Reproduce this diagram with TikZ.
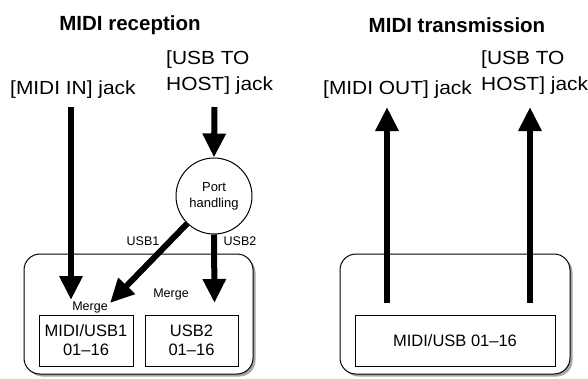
\documentclass[tikz,border=0pt]{standalone}
\usepackage{fontspec}
\setmainfont{Liberation Sans}
\newfontfamily\widefont[FakeStretch=1.1]{Liberation Sans}
\usetikzlibrary{arrows.meta,shadows}

\tikzset{
  bigarrow/.style={line width=6pt, -{Triangle[width=22pt,length=24pt]}},
  title/.style={font=\bfseries\fontsize{20.5}{22}\selectfont, inner sep=0pt},
  jack/.style={font=\widefont\fontsize{19}{26}\selectfont, align=left, inner sep=0pt, anchor=base west},
  small/.style={font=\fontsize{12.5}{15}\selectfont, inner sep=0pt},
  panel/.style={draw, line width=1pt, rounded corners=16pt, fill=white,
    minimum height=120pt, drop shadow={shadow xshift=2.5pt, shadow yshift=-2.5pt, fill=black!35, opacity=1}},
  partbox/.style={draw, line width=1pt, fill=white, minimum height=51pt,
    font=\fontsize{16.5}{19}\selectfont, align=center, inner sep=0pt}
}

\begin{document}
\begin{tikzpicture}[x=1pt,y=-1pt]
  \useasboundingbox (0,0) rectangle (588,378);

  % titles
  \node[title] (rectitle) at (130,25) {MIDI reception};
  \node[title] (sendtitle) at (457,25) {MIDI transmission};

  % jack labels (base = last line)
  \node[jack] (midiin) at (10,94) {[MIDI IN] jack};
  \node[jack] (usbin) at (166,90) {[USB TO\\HOST] jack};
  \node[jack] (midiout) at (323,94) {[MIDI OUT] jack};
  \node[jack] (usbout) at (481,90) {[USB TO\\HOST] jack};

  % panels
  \node[panel, minimum width=229pt] (recvbox) at (138.5,314) {};
  \node[panel, minimum width=230pt] (sendbox) at (455,314) {};

  \node[partbox, minimum width=94pt] (part1) at (86,340.5) {MIDI/USB1\\01--16};
  \node[partbox, minimum width=93pt] (part2) at (191.5,340.5) {USB2\\01--16};
  \node[partbox, minimum width=200pt] (partall) at (455,340.5) {MIDI/USB 01--16};

  \node[small] (mergeA) at (90,307) {Merge};
  \node[small] (mergeB) at (171,294) {Merge};

  % port handling
  \node[draw, circle, line width=1pt, fill=white, minimum size=76pt, align=center,
    font=\fontsize{13}{16}\selectfont, inner sep=0pt] (port) at (214,196) {Port\\handling};
  \node[small] (usba) at (143,241) {USB1};
  \node[small] (usbb) at (240,241) {USB2};

  % reception arrows
  \coordinate (inA) at (71,107);
  \coordinate (tipA) at (71,300);
  \coordinate (inB) at (214.5,107);
  \coordinate (tipB) at (110,303);
  \coordinate (tipC) at (214.5,303);
  \draw[bigarrow] (inA) -- (tipA);
  \draw[bigarrow] (inB) -- (port.north);
  \draw[bigarrow] (port) -- (tipB);
  \draw[bigarrow] (port.south) -- (tipC);

  % transmission arrows
  \foreach \n/\x in {outA/387, outB/530} {
    \coordinate (\n-low) at (\x,303);
    \coordinate (\n-high) at (\x,107);
    \draw[bigarrow] (\n-low) -- (\n-high);
  }
\end{tikzpicture}
\end{document}
